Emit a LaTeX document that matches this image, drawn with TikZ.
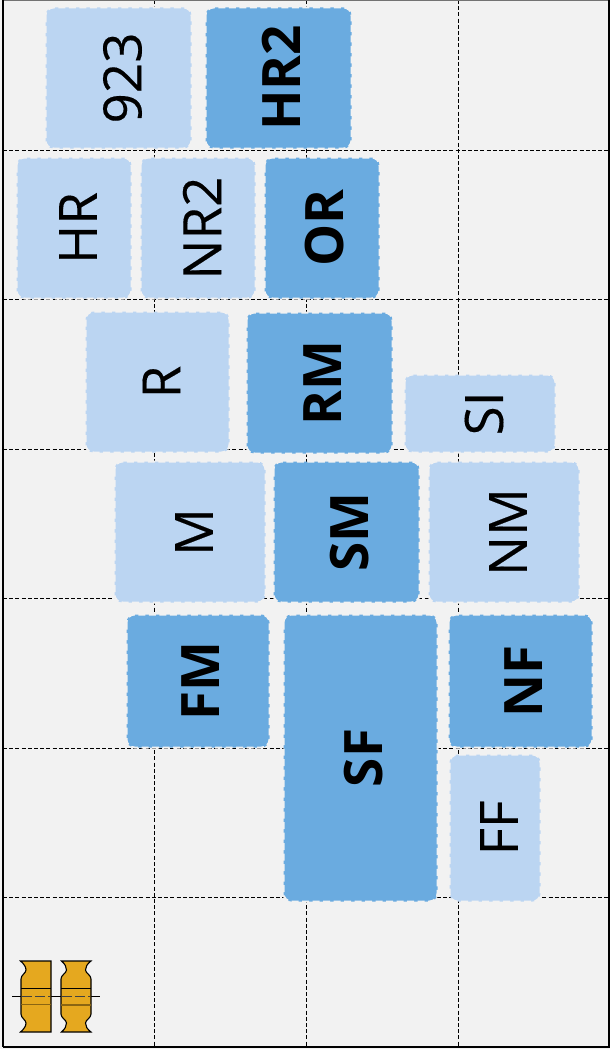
\documentclass[tikz,border=0pt]{standalone}
\usepackage{fontspec}
\setmainfont{Open Sans}[FakeBold=0.25,BoldFeatures={FakeBold=0}]
\definecolor{bgc}{HTML}{F2F2F2}
\definecolor{lightb}{HTML}{BBD5F2}
\definecolor{darkb}{HTML}{6AABE0}
\definecolor{gold}{HTML}{E5A81F}
\definecolor{golddark}{HTML}{8A6512}
\tikzset{
  x=1pt,y=-1pt,
  gridline/.style={black,line width=0.95pt,dash pattern=on 4pt off 2.2pt},
  boxbase/.style={rounded corners=8pt,line width=2pt,dash pattern=on 7pt off 3.5pt,draw=bgc},
  lightbox/.style={boxbase,fill=lightb},
  darkbox/.style={boxbase,fill=darkb},
  lab/.style={rotate=90,font=\fontsize{53}{53}\selectfont,inner sep=0pt,yshift=-4pt},
  blab/.style={rotate=90,font=\fontsize{53}{53}\selectfont\bfseries,inner sep=0pt,yshift=-3pt},
  gearshape/.style={fill=gold,draw=black,line width=1.1pt,line join=miter},
}
\newcommand{\bx}[7]{%
  \path[#1] (#2,#3) rectangle (#4,#5);
  \node[#6] (#7) at ({(#2+#4)/2},{(#3+#5)/2}) {#7};
}
\begin{document}
\begin{tikzpicture}
\useasboundingbox (0,0) rectangle (610,1049);
\fill[bgc] (0,0) rectangle (610,1049);
% grid
\foreach \gx in {154.5,306.5,458.5} \draw[gridline] (\gx,0) -- (\gx,1047);
\foreach \gy in {150,299,449,598,748,897} \draw[gridline] (3,\gy) -- (609,\gy);
% frame
\draw[black!55,line width=1pt] (3,0.5) -- (609,0.5);
\draw[black,line width=1.2pt] (3,0) -- (3,1047);
\draw[black,line width=1.6pt] (609,0) -- (609,1047);
\draw[black,line width=2pt] (3,1047) -- (610,1047);
% boxes
\bx{lightbox}{45.5}{7.5}{191.5}{148.5}{lab}{923}
\bx{darkbox}{205.5}{7.5}{351.5}{148.5}{blab}{HR2}
\bx{lightbox}{16.5}{157.5}{131.5}{298.5}{lab}{HR}
\bx{lightbox}{140.5}{157.5}{255.5}{298.5}{lab}{NR2}
\bx{darkbox}{264.5}{157.5}{379.5}{298.5}{blab}{OR}
\bx{lightbox}{85.5}{311.5}{229.5}{452.5}{lab}{R}
\bx{darkbox}{246.5}{312.5}{392.5}{453.5}{blab}{RM}
\bx{lightbox}{404.5}{374.5}{555.5}{452.5}{lab}{SI}
\bx{lightbox}{114.5}{461.5}{265.5}{602.5}{lab}{M}
\bx{darkbox}{273.5}{461.5}{419.5}{602.5}{blab}{SM}
\bx{lightbox}{428.5}{461.5}{579.5}{602.5}{lab}{NM}
\bx{darkbox}{126.5}{614.5}{269.5}{747.5}{blab}{FM}
\bx{darkbox}{283.5}{614.5}{437.5}{901.5}{blab}{SF}
\bx{darkbox}{448.5}{614.5}{592.5}{747.5}{blab}{NF}
\bx{lightbox}{449.5}{754.5}{540.5}{901.5}{lab}{FF}
% bearing icon
\draw[black,line width=0.8pt] (12,996.5) -- (100,996.5);
\path[gearshape] (20.5,961) -- (51,961) -- (51,1032) -- (20.5,1032)
  .. controls (24,1029) and (26,1026) .. (26,1023)
  .. controls (26,1020) and (21,1018) .. (21,1014)
  -- (21,979)
  .. controls (21,975) and (26,973) .. (26,970)
  .. controls (26,967) and (24,964) .. (20.5,961) -- cycle;
\path[gearshape] (61.5,961) -- (91,961)
  .. controls (87,964) and (85.5,967) .. (85.5,970)
  .. controls (85.5,973) and (91,975) .. (91,979)
  -- (91,1014)
  .. controls (91,1018) and (85.5,1020) .. (85.5,1023)
  .. controls (85.5,1026) and (87,1029) .. (91,1032)
  -- (61.5,1032)
  .. controls (65,1029) and (66.5,1026) .. (66.5,1023)
  .. controls (66.5,1020) and (61,1018) .. (61,1014)
  -- (61,979)
  .. controls (61,975) and (66.5,973) .. (66.5,970)
  .. controls (66.5,967) and (65,964) .. (61.5,961) -- cycle;
\draw[black,line width=0.8pt] (21,988.5) -- (51,988.5);
\draw[golddark,line width=1pt] (21,1004.5) -- (51,1004.5);
\draw[black,line width=0.9pt] (61,988.5) -- (91,988.5);
\draw[golddark,line width=1.6pt] (61,1005) -- (91,1005);
\draw[black!75,line width=0.7pt,dash pattern=on 10pt off 3pt] (22,996.5) -- (50,996.5);
\draw[black!75,line width=0.7pt,dash pattern=on 10pt off 3pt] (62,996.5) -- (90,996.5);
\end{tikzpicture}
\end{document}
